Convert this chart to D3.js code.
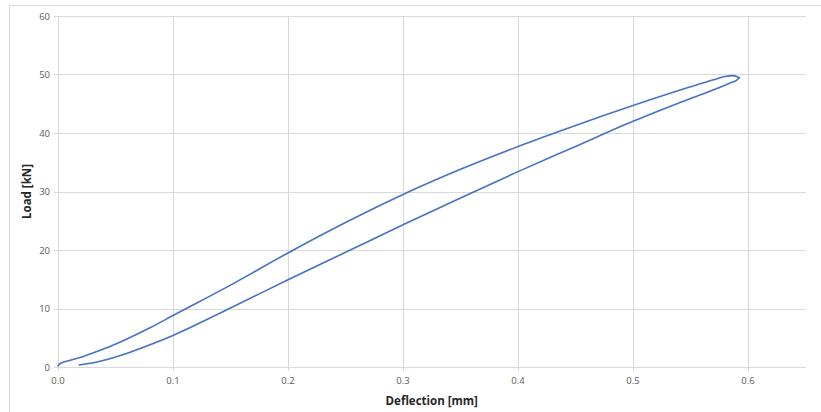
<!DOCTYPE html>
<html>
<head>
<meta charset="utf-8">
<script src="https://cdn.jsdelivr.net/npm/d3@7"></script>
<style>
  body { margin: 0; background: #fff; }
  svg { display: block; font-family: "Open Sans", "Liberation Sans", sans-serif; }
</style>
</head>
<body>
<svg id="chart" width="821" height="412"></svg>
<script>
// loading branch (deflection mm, load kN), ends at the peak
var loadX = [0, 0.002, 0.01, 0.022, 0.04, 0.06, 0.08, 0.1, 0.15, 0.2, 0.25, 0.3, 0.35, 0.4, 0.45, 0.5, 0.55, 0.57, 0.58, 0.587, 0.5925];
var loadY = [0.2, 0.6, 1.1, 1.8, 3.1, 4.8, 6.7, 8.8, 14.0, 19.5, 24.7, 29.5, 33.8, 37.7, 41.3, 44.7, 47.9, 49.1, 49.65, 49.8, 49.45];
// unloading branch, from the peak back down
var unloadX = [0.5925, 0.5905, 0.584, 0.55, 0.5, 0.45, 0.4, 0.35, 0.3, 0.25, 0.2, 0.15, 0.1, 0.08, 0.065, 0.05, 0.035, 0.0185];
var unloadY = [49.45, 49.1, 48.5, 45.9, 42.0, 37.7, 33.4, 28.9, 24.3, 19.6, 14.9, 10.1, 5.4, 3.8, 2.7, 1.7, 0.9, 0.35];

var xTicks = [0, 0.1, 0.2, 0.3, 0.4, 0.5, 0.6];
var yTicks = [0, 10, 20, 30, 40, 50, 60];

var svg = d3.select("#chart");
var gridColor = "#d9d9d9";

// chart frame (runs off the right and bottom of the picture)
svg.append("rect")
  .attr("x", 9.5).attr("y", 5.5)
  .attr("width", 830).attr("height", 420)
  .attr("fill", "none").attr("stroke", gridColor);

var x = d3.scaleLinear().domain([0, 0.65]).range([58, 805.5]);
var y = d3.scaleLinear().domain([0, 60]).range([367, 16]);

// horizontal gridlines
svg.append("g").selectAll("line").data(yTicks).enter().append("line")
  .attr("x1", 54).attr("x2", x(0.65))
  .attr("y1", function(d) { return Math.round(y(d)) + 0.5; })
  .attr("y2", function(d) { return Math.round(y(d)) + 0.5; })
  .attr("stroke", gridColor);

// vertical gridlines
svg.append("g").selectAll("line").data(xTicks).enter().append("line")
  .attr("x1", function(d) { return Math.round(x(d)) + 0.5; })
  .attr("x2", function(d) { return Math.round(x(d)) + 0.5; })
  .attr("y1", y(60)).attr("y2", y(0) + 4)
  .attr("stroke", gridColor);

// tick labels
svg.append("g").selectAll("text").data(yTicks).enter().append("text")
  .attr("x", 50).attr("y", function(d) { return y(d) + 3.5; })
  .attr("text-anchor", "end")
  .attr("font-size", 9.5).attr("fill", "#595959")
  .text(function(d) { return d; });

svg.append("g").selectAll("text").data(xTicks).enter().append("text")
  .attr("x", function(d) { return x(d); }).attr("y", 384)
  .attr("text-anchor", "middle")
  .attr("font-size", 9.5).attr("fill", "#595959")
  .text(function(d) { return d3.format(".1f")(d); });

// axis titles
svg.append("text")
  .attr("x", (x(0) + x(0.65)) / 2).attr("y", 405)
  .attr("text-anchor", "middle")
  .attr("font-size", 11.5).attr("font-weight", "bold").attr("fill", "#262626")
  .text("Deflection [mm]");

svg.append("text")
  .attr("transform", "translate(31," + ((y(0) + y(60)) / 2) + ") rotate(-90)")
  .attr("text-anchor", "middle")
  .attr("font-size", 11.5).attr("font-weight", "bold").attr("fill", "#262626")
  .text("Load [kN]");

// the load-deflection loop, one path per branch
var line = d3.line()
  .x(function(d) { return x(d[0]); })
  .y(function(d) { return y(d[1]); })
  .curve(d3.curveMonotoneX);

var loading = loadX.map(function(v, i) { return [v, loadY[i]]; });
var unloading = unloadX.map(function(v, i) { return [v, unloadY[i]]; }).reverse();

svg.append("g").selectAll("path").data([loading, unloading]).enter().append("path")
  .attr("d", line)
  .attr("fill", "none")
  .attr("stroke", "#4472c4")
  .attr("stroke-width", 1.6)
  .attr("stroke-linejoin", "round")
  .attr("stroke-linecap", "round");
</script>
</body>
</html>
